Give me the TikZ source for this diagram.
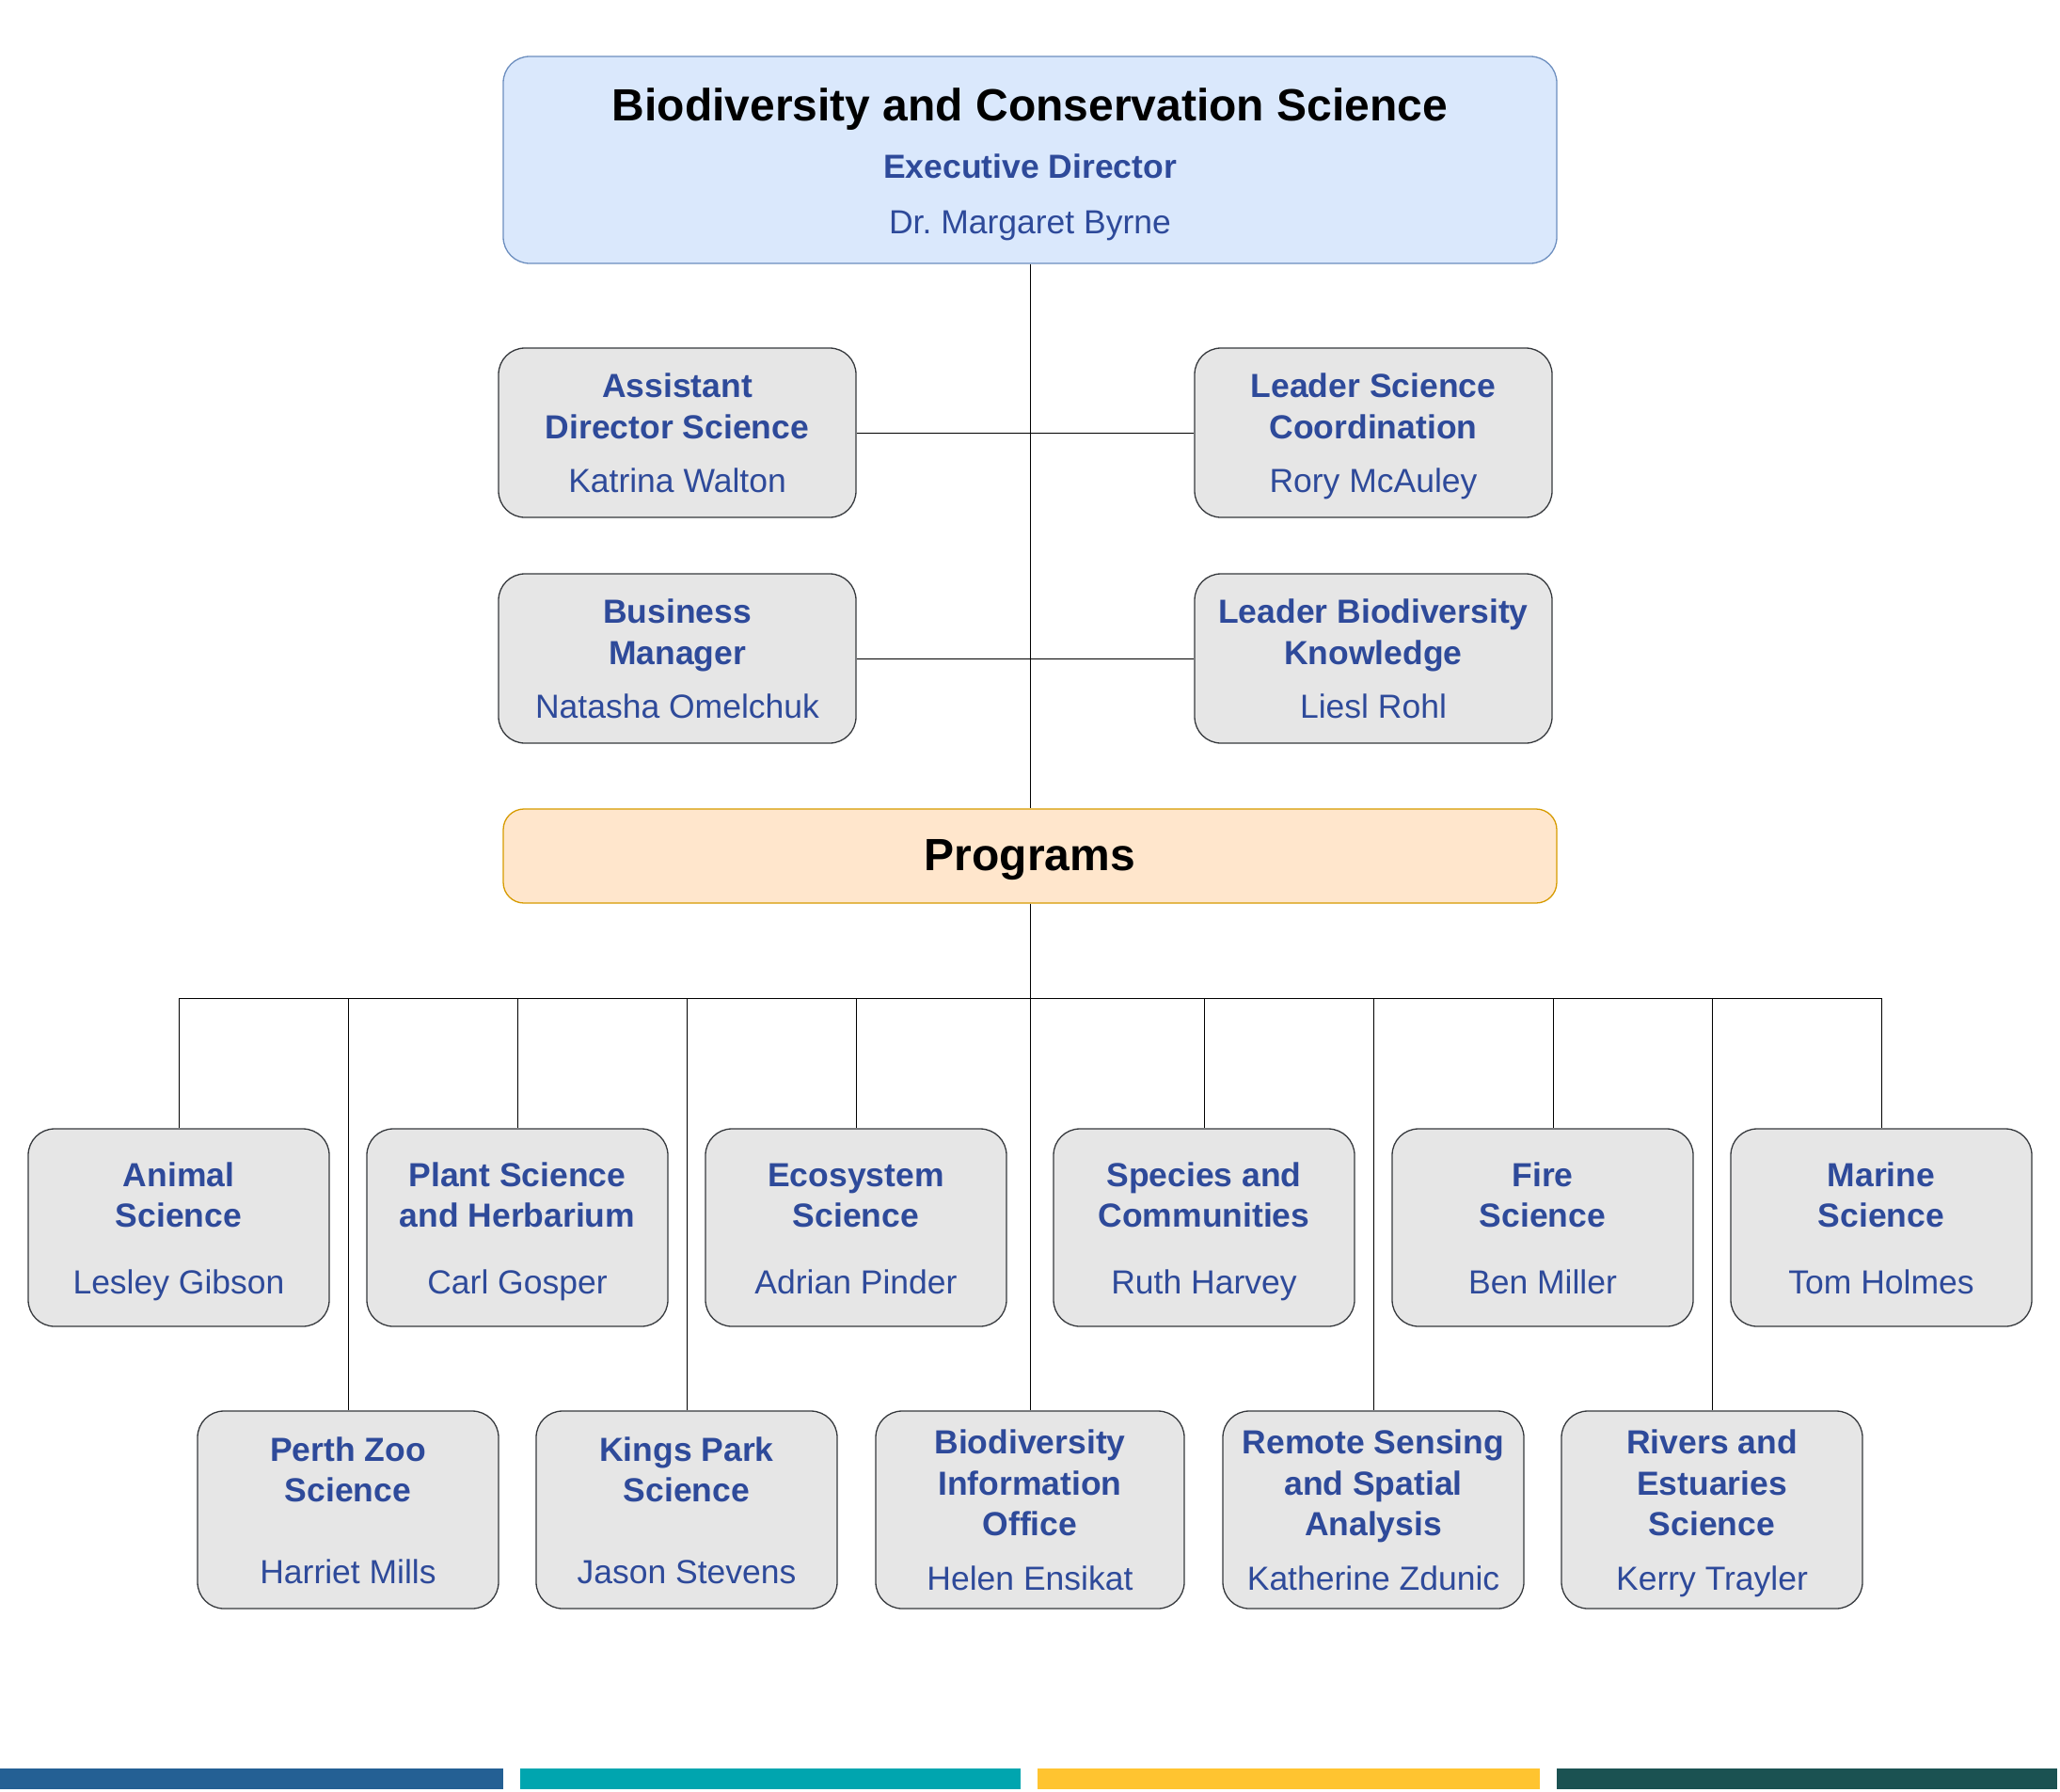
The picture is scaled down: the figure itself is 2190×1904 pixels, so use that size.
\documentclass[tikz,border=0pt]{standalone}
\usepackage{fontspec}
\setmainfont{Liberation Sans}
\definecolor{ink}{HTML}{2E4A9A}
\definecolor{boxgrey}{HTML}{E6E6E6}
\definecolor{boxedge}{HTML}{36393D}
\definecolor{topfill}{HTML}{DAE8FC}
\definecolor{topedge}{HTML}{6C8EBF}
\definecolor{progfill}{HTML}{FFE6CC}
\definecolor{progedge}{HTML}{D79B00}
\definecolor{barblue}{HTML}{246094}
\definecolor{barteal}{HTML}{00A5AF}
\definecolor{baryellow}{HTML}{FFC430}
\definecolor{bargreen}{HTML}{1B5252}
\newcommand\topstrut{\rule{0pt}{34.4pt}}
\newcommand\botstrut{\rule[-8pt]{0pt}{8pt}}

\begin{document}
\begin{tikzpicture}[x=1pt,y=-1pt,
  wire/.style={line width=1pt},
  staff/.style={draw=boxedge,fill=boxgrey,line width=1.3pt,rounded corners=28pt,text=ink,
    align=center,inner sep=0pt,minimum width=380pt,minimum height=180pt,
    font=\fontsize{35.5}{43.5}\selectfont},
  prog/.style={staff,minimum width=320pt,minimum height=210pt}]
  \useasboundingbox (0,0) rectangle (2190,1904);
  % executive director
  \node[draw=topedge,fill=topfill,line width=1.3pt,rounded corners=28pt,
    minimum width=1120pt,minimum height=220pt] (bcs) at (1095,170) {};
  \node[anchor=base,font=\fontsize{48}{58}\selectfont\bfseries] (bcstitle) at (1095,128) {Biodiversity and Conservation Science};
  \node[anchor=base,text=ink,font=\fontsize{35.5}{43.5}\selectfont\bfseries] (bcsrole) at (1095,189.5) {Executive Director};
  \node[anchor=base,text=ink,font=\fontsize{35.5}{43.5}\selectfont] (bcsname) at (1095,248.5) {Dr.\ Margaret Byrne};
  % support staff
  \node[staff] (asd) at (720,460) {\topstrut\textbf{Assistant}\\\textbf{Director Science}\\[13.5pt]Katrina Walton\botstrut};
  \node[staff] (lsc) at (1460,460) {\topstrut\textbf{Leader Science}\\\textbf{Coordination}\\[13.5pt]Rory McAuley\botstrut};
  \node[staff] (bm) at (720,700) {\topstrut\textbf{Business}\\\textbf{Manager}\\[13.5pt]Natasha Omelchuk\botstrut};
  \node[staff] (lbk) at (1460,700) {\topstrut\textbf{Leader Biodiversity}\\\textbf{Knowledge}\\[13.5pt]Liesl Rohl\botstrut};
  \node[draw=progedge,fill=progfill,line width=1.3pt,rounded corners=22pt,minimum width=1120pt,
    minimum height=100pt,text height=37pt,text depth=6pt,inner sep=0pt,
    font=\fontsize{48}{58}\selectfont\bfseries] (progs) at (1095,910) {Programs};
  % programs, first row
  \node[prog] (animal) at (190,1305) {\topstrut\textbf{Animal}\\\textbf{Science}\\[27pt]Lesley Gibson\botstrut};
  \node[prog] (plant) at (550,1305) {\topstrut\textbf{Plant Science}\\\textbf{and Herbarium}\\[27pt]Carl Gosper\botstrut};
  \node[prog] (eco) at (910,1305) {\topstrut\textbf{Ecosystem}\\\textbf{Science}\\[27pt]Adrian Pinder\botstrut};
  \node[prog] (species) at (1280,1305) {\topstrut\textbf{Species and}\\\textbf{Communities}\\[27pt]Ruth Harvey\botstrut};
  \node[prog] (fire) at (1640,1305) {\topstrut\textbf{Fire}\\\textbf{Science}\\[27pt]Ben Miller\botstrut};
  \node[prog] (marine) at (2000,1305) {\topstrut\textbf{Marine}\\\textbf{Science}\\[27pt]Tom Holmes\botstrut};
  % programs, second row
  \node[prog] (zoo) at (370,1605) {\topstrut\textbf{Perth Zoo}\\\textbf{Science}\\[43pt]Harriet Mills\botstrut};
  \node[prog] (kings) at (730,1605) {\topstrut\textbf{Kings Park}\\\textbf{Science}\\[43pt]Jason Stevens\botstrut};
  \node[prog,minimum width=328pt] (bio) at (1095,1605) {\topstrut\textbf{Biodiversity}\\\textbf{Information}\\\textbf{Office}\\[14pt]Helen Ensikat\botstrut};
  \node[prog] (remote) at (1460,1605) {\topstrut\textbf{Remote Sensing}\\\textbf{and Spatial}\\\textbf{Analysis}\\[14pt]Katherine Zdunic\botstrut};
  \node[prog] (rivers) at (1820,1605) {\topstrut\textbf{Rivers and}\\\textbf{Estuaries}\\\textbf{Science}\\[14pt]Kerry Trayler\botstrut};
  % connectors
  \coordinate (hub) at (1095,1061);
  \coordinate (firetap) at ([xshift=11pt]fire.north);
  \draw[wire] (bcs) -- (progs);
  \draw[wire] (asd) -- (lsc);
  \draw[wire] (bm) -- (lbk);
  \draw[wire] (progs) -- (hub);
  \draw[wire] (animal |- hub) -- (marine |- hub);
  \foreach \n in {animal,plant,eco,species,marine,zoo,kings,bio,remote,rivers}
    \draw[wire] (\n |- hub) -- (\n);
  \draw[wire] (firetap |- hub) -- (firetap);
  % colour bars
  \fill[barblue] (0,1880) rectangle (535,1902);
  \fill[barteal] (553,1880) rectangle (1085,1902);
  \fill[baryellow] (1103,1880) rectangle (1637,1902);
  \fill[bargreen] (1655,1880) rectangle (2187,1902);
\end{tikzpicture}
\end{document}
